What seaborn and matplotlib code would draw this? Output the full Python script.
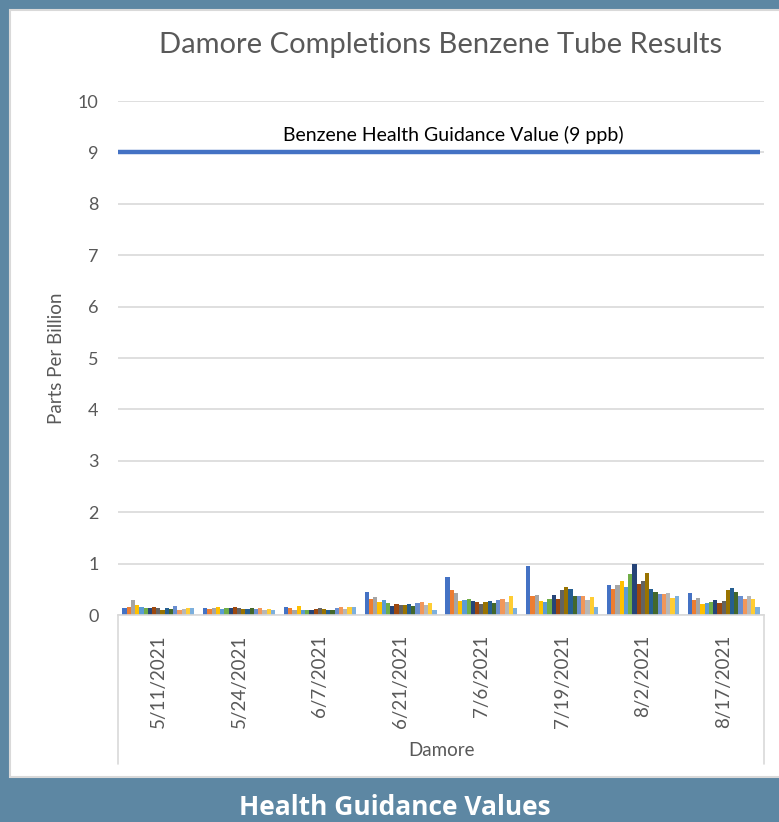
import matplotlib
matplotlib.use('Agg')
import matplotlib.pyplot as plt
import seaborn as sns
import pandas as pd
from matplotlib.patches import Rectangle
from matplotlib.lines import Line2D

# ---- data ----
dates = ["5/11/2021", "5/24/2021", "6/7/2021", "6/21/2021",
         "7/6/2021", "7/19/2021", "8/2/2021", "8/17/2021"]
samples = [f"Tube {i}" for i in range(1, 18)]

v_0511 = [0.14, 0.15, 0.29, 0.19, 0.15, 0.14, 0.14, 0.16, 0.13, 0.10, 0.13, 0.12, 0.17, 0.10, 0.11, 0.13, 0.14]
v_0524 = [0.13, 0.11, 0.14, 0.15, 0.11, 0.13, 0.13, 0.16, 0.13, 0.12, 0.12, 0.13, 0.12, 0.13, 0.10, 0.11, 0.10]
v_0607 = [0.15, 0.13, 0.10, 0.17, 0.09, 0.09, 0.09, 0.11, 0.13, 0.11, 0.10, 0.10, 0.13, 0.15, 0.12, 0.15, 0.16]
v_0621 = [0.44, 0.31, 0.35, 0.25, 0.29, 0.23, 0.18, 0.21, 0.19, 0.19, 0.21, 0.18, 0.23, 0.25, 0.19, 0.23, 0.10]
v_0706 = [0.73, 0.49, 0.43, 0.28, 0.30, 0.32, 0.27, 0.25, 0.22, 0.25, 0.27, 0.23, 0.29, 0.31, 0.25, 0.37, 0.14]
v_0719 = [0.95, 0.36, 0.38, 0.27, 0.25, 0.31, 0.38, 0.31, 0.49, 0.55, 0.50, 0.36, 0.36, 0.37, 0.29, 0.35, 0.16]
v_0802 = [0.58, 0.50, 0.58, 0.66, 0.54, 0.80, 0.99, 0.60, 0.66, 0.82, 0.51, 0.44, 0.41, 0.40, 0.42, 0.34, 0.37]
v_0817 = [0.43, 0.29, 0.34, 0.21, 0.23, 0.25, 0.29, 0.23, 0.27, 0.49, 0.53, 0.44, 0.36, 0.32, 0.37, 0.31, 0.16]
values_by_date = [v_0511, v_0524, v_0607, v_0621, v_0706, v_0719, v_0802, v_0817]

guidance_value = 9
guidance_label = "Benzene Health Guidance Value (9 ppb)"

colors = ["#4472C4", "#ED7D31", "#A5A5A5", "#FFC000", "#5B9BD5", "#70AD47",
          "#264478", "#9E480E", "#636363", "#997300", "#255E91", "#43682B",
          "#698ED0", "#F1975A", "#B7B7B7", "#FFCD33", "#7CAFDD"]

rows = []
for d, vals in zip(dates, values_by_date):
    for s, v in zip(samples, vals):
        rows.append({"date": d, "sample": s, "value": v})
df = pd.DataFrame(rows)

# ---- figure ----
sns.set_theme(style="white")
plt.rcParams['font.family'] = ['Lato', 'DejaVu Sans']

W, H = 779, 822
fig = plt.figure(figsize=(W / 100, H / 100), dpi=100, facecolor="#5D87A3")
fig.patches.append(Rectangle((10 / W, 1 - 777 / H), 1 - 10 / W + 0.01, (777 - 10) / H,
                             transform=fig.transFigure, facecolor="white",
                             edgecolor="#D9D9D9", lw=1.5, zorder=-5))

ax = fig.add_axes([118 / W, 1 - 615 / H, 646 / W, 514 / H])
ax.set_zorder(2)
ax.set_facecolor("none")
sns.barplot(data=df, x="date", y="value", hue="sample", order=dates,
            hue_order=samples, palette=colors, saturation=1, width=0.89,
            gap=0, legend=False, ax=ax, errorbar=None, linewidth=0)

ax.set_xlim(-0.5, 7.5)
ax.set_ylim(0, 10)
ax.set_yticks(range(0, 11))
ax.yaxis.grid(True, color="#D9D9D9", lw=1.2)
ax.set_axisbelow(True)
for sp in ["top", "right", "left"]:
    ax.spines[sp].set_visible(False)
ax.spines["bottom"].set_color("#D9D9D9")
ax.spines["bottom"].set_linewidth(1.2)
ax.tick_params(axis="y", length=0, pad=14, labelsize=13, labelcolor="#595959")
ax.tick_params(axis="x", length=0, pad=14, labelsize=13.5, labelcolor="#595959")
for lab in ax.get_xticklabels():
    lab.set_rotation(90)
    lab.set_va("top")
    lab.set_ha("center")
ax.set_xlabel("")
ax.set_ylabel("")

ax.plot([-0.5, 7.45], [guidance_value, guidance_value], color="#4472C4", lw=3.2,
        solid_capstyle="butt", zorder=5)
ax.text(3.65, guidance_value + 0.34, guidance_label, ha="center", va="center",
        fontsize=14, color="black")

fig.text(441 / W, 1 - 45 / H, "Damore Completions Benzene Tube Results",
         ha="center", va="center", fontsize=21, color="#595959")
fig.text(57 / W, 1 - 358 / H, "Parts Per Billion", ha="center", va="center",
         rotation=90, fontsize=13.5, color="#595959")
fig.text(441 / W, 1 - 750 / H, "Damore", ha="center", va="center",
         fontsize=13.5, color="#595959")
fig.text(395 / W, 1 - 807 / H, "Health Guidance Values", ha="center", va="center",
         fontsize=19, color="white", fontweight="bold", family=["Open Sans", "DejaVu Sans"])

for xp in (118, 764):
    fig.add_artist(Line2D([xp / W, xp / W], [1 - 615 / H, 1 - 764 / H],
                          transform=fig.transFigure, color="#D9D9D9", lw=1.2))

fig.savefig("out.png", dpi=100, facecolor=fig.get_facecolor())
